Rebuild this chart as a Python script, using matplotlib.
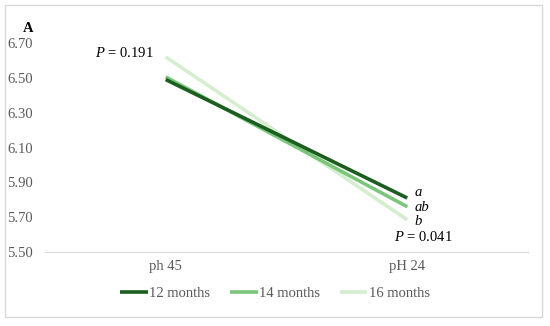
import matplotlib
matplotlib.use("Agg")
import matplotlib.pyplot as plt
from matplotlib.patches import Rectangle

plt.rcParams['font.family'] = ['Liberation Serif', 'DejaVu Serif']
plt.rcParams['mathtext.fontset'] = 'custom'
plt.rcParams['mathtext.it'] = 'Liberation Serif:italic'
plt.rcParams['mathtext.rm'] = 'Liberation Serif'

categories = ['ph 45', 'pH 24']
series_names = ['12 months', '14 months', '16 months']
m12 = [6.49, 5.81]
m14 = [6.505, 5.76]
m16 = [6.62, 5.685]
letters = ['a', 'ab', 'b']
yticks = [5.50, 5.70, 5.90, 6.10, 6.30, 6.50, 6.70]
colors = ['#1b5e20', '#7bc67b', '#d5eecf']

fig = plt.figure(figsize=(5.5, 3.26), dpi=100)
fig.patches.append(Rectangle((5/550, 1-317/326), 537/550, 312/326, transform=fig.transFigure,
                             fill=False, edgecolor='#d9d9d9', linewidth=1))
ax = fig.add_axes([45/550, 1-252/326, 483/550, 209/326])

x = range(len(categories))
for vals, name, c in zip([m12, m14, m16][::-1], series_names[::-1], colors[::-1]):
    ax.plot(x, vals, color=c, linewidth=2.6, label=name, solid_capstyle='butt')

ax.set_xlim(-0.5, 1.5)
ax.set_ylim(5.5, 6.7)
ax.set_yticks(yticks)
ax.set_yticklabels(['%.2f' % v for v in yticks], color='#595959', fontsize=10.5)
ax.set_xticks(list(x))
ax.set_xticklabels(categories, color='#595959', fontsize=10.5)
ax.tick_params(length=0, pad=6)
ax.tick_params(axis='y', pad=9)
for s in ['top', 'right', 'left']:
    ax.spines[s].set_visible(False)
ax.spines['bottom'].set_color('#d9d9d9')

# significance letters at pH 24
for lt, yv in zip(letters, [5.843, 5.757, 5.677]):
    ax.text(1.03, yv, lt, style='italic', fontsize=10.5, va='center', ha='left')
ax.text(1.065, 5.586, '$P$ = 0.041', fontsize=10.5, ha='center', va='center')
ax.text(-0.17, 6.645, '$P$ = 0.191', fontsize=10.5, ha='center', va='center')

fig.text(28/550, 1-28/326, 'A', fontsize=10.5, fontweight='bold', ha='center', va='center')

h, l = ax.get_legend_handles_labels()
fig.legend(h[::-1], l[::-1], loc='center', bbox_to_anchor=(0.5, 1-293/326), ncol=3,
           frameon=False, fontsize=10.5, handlelength=1.9, handletextpad=0.1, columnspacing=1.35,
           labelcolor='#595959')

fig.savefig('out.png', dpi=100)
